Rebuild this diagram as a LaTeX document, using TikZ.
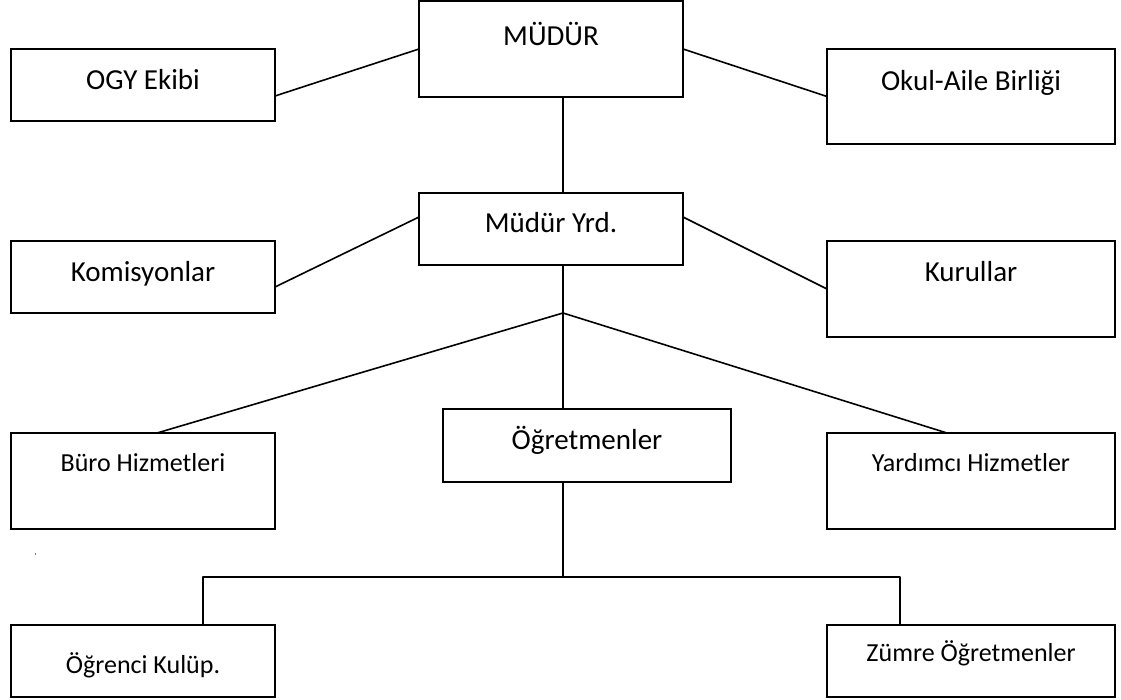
\documentclass[tikz,border=0pt]{standalone}
\usepackage{fontspec}
\setmainfont{Carlito}
\usetikzlibrary{calc}
\begin{document}
\begin{tikzpicture}[x=1pt,y=-1pt,
  box/.style={draw, rectangle, line width=1.6pt, inner sep=0pt, outer sep=0pt},
  lbox/.style={box, minimum width=264pt},
  rbox/.style={box, minimum width=288pt},
  conn/.style={line width=1.6pt, line join=round},
  big/.style={anchor=base, inner sep=0pt, font=\fontsize{29}{34}\selectfont},
  small/.style={anchor=base, inner sep=0pt, font=\fontsize{26}{31}\selectfont}]
\useasboundingbox (0,0) rectangle (1121,699);

% boxes
\node[lbox, minimum height=96pt] (mudur) at (551,49) {};
\node[lbox, minimum height=72pt] (ogy)   at (143,85) {};
\node[rbox, minimum height=95pt] (okul)  at (971,96.5) {};
\node[lbox, minimum height=72pt] (myrd)  at (551,229) {};
\node[lbox, minimum height=72pt] (kom)   at (143,277) {};
\node[rbox, minimum height=96pt] (kur)   at (971,289) {};
\node[lbox, minimum height=96pt] (buro)  at (143,481) {};
\node[rbox, minimum height=73pt] (ogr)   at (587,445.5) {};
\node[rbox, minimum height=96pt] (yard)  at (971,481) {};
\node[lbox, minimum height=72pt] (kulup) at (143,661) {};
\node[rbox, minimum height=72pt] (zumre) at (971,661) {};

% texts
\node[big]   (mudurt) at (551,45)  {MÜDÜR};
\node[big]   (ogyt)   at (143,89)  {OGY Ekibi};
\node[big]   (okult)  at (971,90)  {Okul-Aile Birliği};
\node[big]   (myrdt)  at (551,232) {Müdür Yrd.};
\node[big]   (komt)   at (143,281) {Komisyonlar};
\node[big]   (kurt)   at (971,281) {Kurullar};
\node[small] (burot)  at (143,471) {Büro Hizmetleri};
\node[big]   (ogrt)   at (587,449) {Öğretmenler};
\node[small] (yardt)  at (971,471) {Yardımcı Hizmetler};
\node[small] (kulupt) at (143,673) {Öğrenci Kulüp.};
\node[small] (zumret) at (971,661) {Zümre Öğretmenler};

% connectors
\draw[conn] (mudur.west) -- ($(ogy.east)+(0,11)$);
\draw[conn] (mudur.east) -- (okul.west);
\draw[conn] ($(myrd.west)+(0,-12)$) -- ($(kom.east)+(0,10)$);
\draw[conn] ($(myrd.east)+(0,-12)$) -- (kur.west);
\draw[conn] ($(mudur.south)+(12,0)$) -- ($(myrd.north)+(12,0)$);
\coordinate (j1) at (563,313);
\draw[conn] ($(myrd.south)+(12,0)$) -- (j1);
\draw[conn] (j1) -- ($(buro.north)+(14,0)$);
\draw[conn] (j1) -- ($(yard.north)+(-24,0)$);
\draw[conn] (j1) -- ($(ogr.north)+(-24,0)$);
\coordinate (j2) at (563,577);
\draw[conn] ($(ogr.south)+(-24,0)$) -- (j2);
\draw[conn] ($(kulup.north)+(60,0)$) |- (j2) -| ($(zumre.north)+(-71,0)$);

% stray dot
\fill[gray] (34.5,553) rectangle (35.5,555);
\end{tikzpicture}
\end{document}
